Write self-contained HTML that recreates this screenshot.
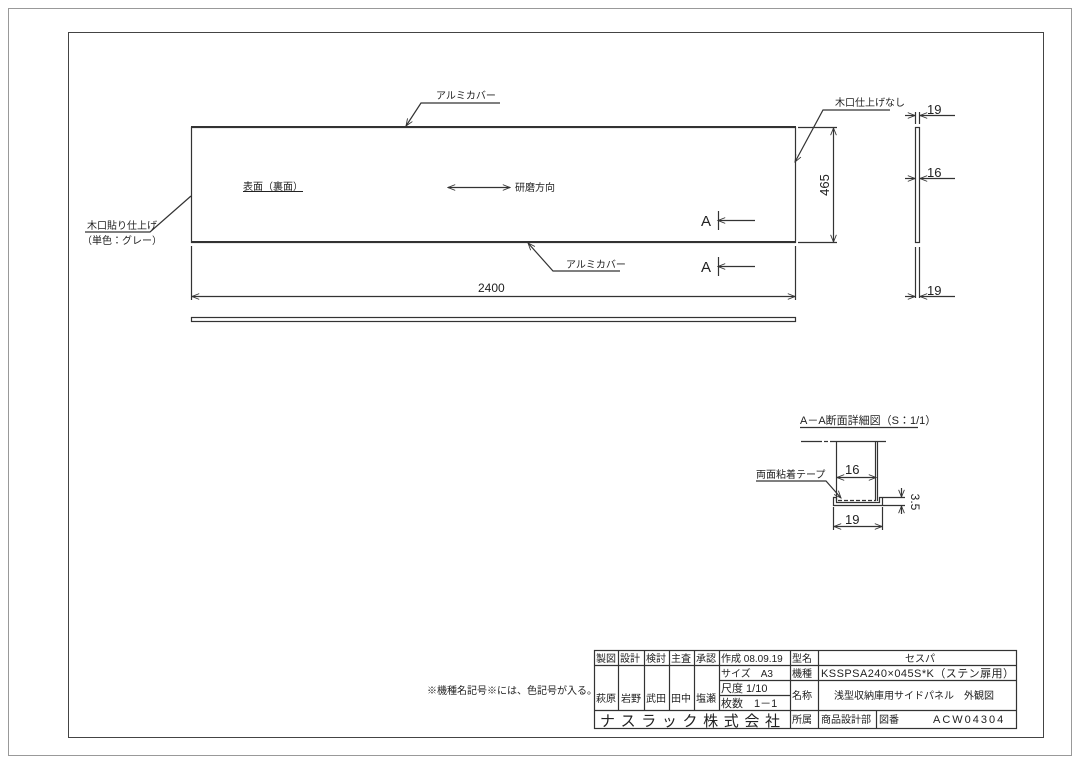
<!DOCTYPE html>
<html><head><meta charset="utf-8"><style>
body{margin:0;background:#fff}
svg{display:block}
text{font-family:"Liberation Sans","Noto Sans CJK JP",sans-serif;fill:#222}
</style></head><body>
<svg width="1080" height="764" viewBox="0 0 1080 764" xmlns="http://www.w3.org/2000/svg">
<defs>
<marker id="a" viewBox="0 0 10 10" refX="10" refY="5" markerWidth="8" markerHeight="6" orient="auto-start-reverse"><path d="M0,1 L10,5 L0,9" fill="none" stroke="#333" stroke-width="1.2"/></marker>
</defs>
<rect x="8.5" y="8.5" width="1063" height="747" fill="none" stroke="#999" stroke-width="1"/>
<rect x="68.5" y="32.5" width="975" height="705" fill="none" stroke="#444" stroke-width="1"/>
<g stroke="#333" fill="none" stroke-width="1.2">
<rect x="191.5" y="127.5" width="604" height="115"/>
<line x1="191" y1="127" x2="796" y2="127" stroke-width="2"/>
<line x1="191" y1="242" x2="796" y2="242" stroke-width="2"/>
<rect x="191.5" y="317.5" width="604" height="4"/>
<line x1="191.5" y1="246" x2="191.5" y2="300"/>
<line x1="795.5" y1="246" x2="795.5" y2="300"/>
<line x1="192" y1="296.5" x2="795" y2="296.5" marker-start="url(#a)" marker-end="url(#a)"/>
<line x1="798" y1="127.5" x2="837" y2="127.5"/>
<line x1="798" y1="242.5" x2="837" y2="242.5"/>
<line x1="833.5" y1="128" x2="833.5" y2="242" marker-start="url(#a)" marker-end="url(#a)"/>
<polyline points="406,126 421,103 500,103" marker-start="url(#a)"/>
<polyline points="795,162 823,110 890,110" marker-start="url(#a)"/>
<polyline points="85,232 150,232 191,196"/>
<polyline points="528,243 553,271 620,271" marker-start="url(#a)"/>
<line x1="448" y1="187.5" x2="510" y2="187.5" marker-start="url(#a)" marker-end="url(#a)"/>
<line x1="718" y1="220.5" x2="755" y2="220.5" marker-start="url(#a)"/>
<line x1="718.5" y1="211" x2="718.5" y2="230"/>
<line x1="718" y1="266.5" x2="755" y2="266.5" marker-start="url(#a)"/>
<line x1="718.5" y1="257" x2="718.5" y2="276"/>
<rect x="915.5" y="127.5" width="4" height="115"/>
<line x1="915.5" y1="247" x2="915.5" y2="298"/>
<line x1="919.5" y1="247" x2="919.5" y2="298"/>
<line x1="915.5" y1="112" x2="915.5" y2="124"/>
<line x1="919.5" y1="112" x2="919.5" y2="124"/>
<line x1="905" y1="115.5" x2="915" y2="115.5" marker-end="url(#a)"/>
<line x1="955" y1="115.5" x2="920" y2="115.5" marker-end="url(#a)"/>
<line x1="905" y1="178.5" x2="915" y2="178.5" marker-end="url(#a)"/>
<line x1="955" y1="178.5" x2="920" y2="178.5" marker-end="url(#a)"/>
<line x1="905" y1="296.5" x2="915" y2="296.5" marker-end="url(#a)"/>
<line x1="955" y1="296.5" x2="920" y2="296.5" marker-end="url(#a)"/>
<line x1="801" y1="441.5" x2="822" y2="441.5"/>
<line x1="824" y1="441.5" x2="828" y2="441.5"/>
<line x1="830" y1="441.5" x2="886" y2="441.5"/>
<line x1="836.5" y1="442" x2="836.5" y2="501"/>
<line x1="877.5" y1="442" x2="877.5" y2="501"/>
<line x1="875.5" y1="442" x2="875.5" y2="501"/>
<line x1="837" y1="477.5" x2="876" y2="477.5" marker-start="url(#a)" marker-end="url(#a)"/>
<path d="M833.5,497.5 V505.5 H882.5 V497.5 H879.5 V502.5 H836.5 V497.5 Z"/>
<line x1="838" y1="500.5" x2="876" y2="500.5" stroke-dasharray="4,2"/>
<polyline points="756,481 826,481 841,498" marker-end="url(#a)"/>
<line x1="883" y1="497.5" x2="905" y2="497.5"/>
<line x1="883" y1="505.5" x2="905" y2="505.5"/>
<line x1="901.5" y1="488" x2="901.5" y2="497" marker-end="url(#a)"/>
<line x1="901.5" y1="514" x2="901.5" y2="506" marker-end="url(#a)"/>
<line x1="833.5" y1="507" x2="833.5" y2="530"/>
<line x1="882.5" y1="507" x2="882.5" y2="530"/>
<line x1="834" y1="526.5" x2="882" y2="526.5" marker-start="url(#a)" marker-end="url(#a)"/>
<line x1="800" y1="427.5" x2="918" y2="427.5"/>
<rect x="594.5" y="650.5" width="422" height="78"/>
<line x1="594" y1="710.5" x2="1017" y2="710.5"/>
<line x1="594" y1="665.5" x2="719" y2="665.5"/>
<line x1="719" y1="665.5" x2="1017" y2="665.5"/>
<line x1="719" y1="680.5" x2="1017" y2="680.5"/>
<line x1="719" y1="695.5" x2="790" y2="695.5"/>
<line x1="618.5" y1="650" x2="618.5" y2="710"/>
<line x1="644.5" y1="650" x2="644.5" y2="710"/>
<line x1="669.5" y1="650" x2="669.5" y2="710"/>
<line x1="694.5" y1="650" x2="694.5" y2="710"/>
<line x1="719.5" y1="650" x2="719.5" y2="710"/>
<line x1="790.5" y1="650" x2="790.5" y2="728"/>
<line x1="818.5" y1="650" x2="818.5" y2="728"/>
<line x1="876.5" y1="710" x2="876.5" y2="728"/>
</g>
<g font-size="10">
<text x="436" y="99">アルミカバー</text>
<text x="835" y="106">木口仕上げなし</text>
<text x="243" y="190" text-decoration="underline">表面（裏面）</text>
<text x="515" y="191">研磨方向</text>
<text x="87" y="229">木口貼り仕上げ</text>
<text x="82" y="244">（単色：グレー）</text>
<text x="566" y="268">アルミカバー</text>
<text x="756" y="478">両面粘着テープ</text>
<text x="800" y="424" font-size="11">A－A断面詳細図（S：1/1）</text>
<text x="427" y="694">※機種名記号※には、色記号が入る。</text>
</g>
<g font-size="15" fill="#222">
<text x="701" y="226">A</text>
<text x="701" y="272">A</text>
<text x="478" y="292" font-size="12">2400</text>
<text x="927" y="114" font-size="13">19</text>
<text x="927" y="177" font-size="13">16</text>
<text x="927" y="295" font-size="13">19</text>
<text x="845" y="474" font-size="13">16</text>
<text x="845" y="524" font-size="13">19</text>
<text transform="translate(829,185) rotate(-90)" text-anchor="middle" font-size="13">465</text>
<text transform="translate(911,502) rotate(90)" text-anchor="middle" font-size="12">3.5</text>
</g>
<g font-size="10">
<text x="596" y="662">製図</text><text x="620" y="662">設計</text><text x="646" y="662">検討</text><text x="671" y="662">主査</text><text x="696" y="662">承認</text>
<text x="721" y="662">作成 08.09.19</text><text x="792" y="662">型名</text>
<text x="905" y="662">セスパ</text>
<text x="721" y="677">サイズ　A3</text><text x="792" y="677">機種</text>
<text x="821" y="677" font-size="11" textLength="193">KSSPSA240×045S*K（ステン扉用）</text>
<text x="721" y="692" font-size="11">尺度 1/10</text>
<text x="721" y="707" font-size="11">枚数　1－1</text>
<text x="792" y="699">名称</text>
<text x="834" y="699">浅型収納庫用サイドパネル　外観図</text>
<text x="596" y="702">萩原</text><text x="621" y="702">岩野</text><text x="646" y="702">武田</text><text x="671" y="702">田中</text><text x="696" y="702">塩瀬</text>
<text x="600" y="726" font-size="15" textLength="180">ナスラック株式会社</text>
<text x="792" y="723">所属</text><text x="821" y="723">商品設計部</text><text x="879" y="723">図番</text>
<text x="933" y="723" font-size="11" letter-spacing="2">ACW04304</text>
</g>
</svg>
</body></html>
